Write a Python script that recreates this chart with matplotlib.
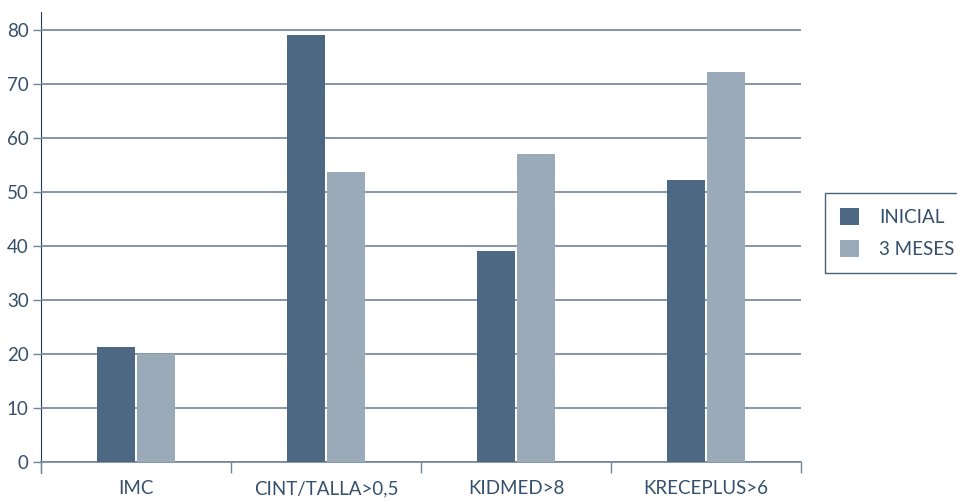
import matplotlib.pyplot as plt
import numpy as np

categories = ["IMC", "CINT/TALLA>0,5", "KIDMED>8", "KRECEPLUS>6"]
inicial = [21.3, 79.0, 39.1, 52.2]
tres_meses = [20.0, 53.7, 57.0, 72.2]
series_names = ["INICIAL", "3 MESES"]

dark = "#4d6882"
light = "#9aaab8"
grid_c = "#6f8599"
spine_c = "#1f3a5a"
text_c = "#34506c"

plt.rcParams['font.family'] = ['Lato', 'DejaVu Sans']

fig = plt.figure(figsize=(9.57, 5.01), dpi=100)
W, H = 957, 501
ax = fig.add_axes([41 / W, (H - 462) / H, (801 - 41) / W, (462 - 12) / H])

x = np.arange(len(categories))
bw = 0.2
ax.bar(x - bw / 2 - 0.005, inicial, bw, color=dark, label=series_names[0], zorder=3)
ax.bar(x + bw / 2 + 0.005, tres_meses, bw, color=light, label=series_names[1], zorder=3)

ax.set_xlim(-0.5, len(categories) - 0.5)
ax.set_ylim(0, 83.3)
ax.set_yticks(np.arange(0, 81, 10))
ax.yaxis.grid(True, color=grid_c, linewidth=1.2, zorder=4)
ax.set_axisbelow(False)

ax.set_xticks(np.arange(-0.5, len(categories), 1.0))
ax.set_xticklabels([])
ax.set_xticks(x, minor=True)
ax.set_xticklabels(categories, minor=True)
ax.tick_params(axis='x', which='major', length=8, width=1, color=grid_c, direction='out')
ax.tick_params(axis='x', which='minor', length=0, pad=13, labelsize=13.5, labelcolor=text_c)
ax.tick_params(axis='y', length=6, width=1, color=grid_c, labelsize=13.5, labelcolor=text_c, pad=3)

for s in ['top', 'right']:
    ax.spines[s].set_visible(False)
ax.spines['left'].set_color(spine_c)
ax.spines['left'].set_bounds(-2.0, 83.3)
ax.spines['bottom'].set_color(grid_c)
ax.spines['bottom'].set_linewidth(1.2)

leg = fig.legend(loc='upper left', bbox_to_anchor=(825 / W, 1 - 193 / H),
                 frameon=True, fancybox=False, fontsize=13.5, labelcolor=text_c,
                 handlelength=1.0, handleheight=1.0, borderpad=0.8, labelspacing=0.75,
                 handletextpad=1.1, borderaxespad=0)
leg.get_frame().set_edgecolor(spine_c)
leg.get_frame().set_linewidth(1.0)

fig.savefig("out.png", dpi=100)
